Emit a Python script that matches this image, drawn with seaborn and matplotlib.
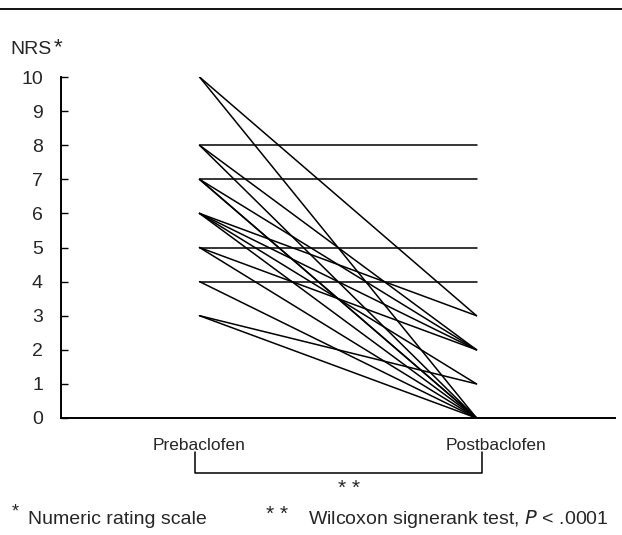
import numpy as np
import pandas as pd
import matplotlib
matplotlib.use("Agg")
import matplotlib.pyplot as plt
import matplotlib.transforms as mtransforms
from matplotlib.lines import Line2D
import seaborn as sns

# Data: NRS score per patient before and after baclofen
pre_scores = [10, 10, 8, 8, 8, 7, 7, 7, 7, 6, 6, 6, 6, 5, 5, 5, 4, 4, 3, 3]
post_scores = [3, 0, 8, 2, 0, 7, 2, 0, 0, 3, 2, 1, 0, 5, 2, 0, 4, 0, 1, 0]
conditions = ["Prebaclofen", "Postbaclofen"]
y_ticks = list(range(0, 11))

rows = []
for pid, (a, b) in enumerate(zip(pre_scores, post_scores)):
    rows.append({"patient": pid, "cond": 0, "nrs": a})
    rows.append({"patient": pid, "cond": 1, "nrs": b})
df = pd.DataFrame(rows)

sns.set_theme(style="white")
plt.rcParams["font.family"] = ["Liberation Sans", "DejaVu Sans"]

fig = plt.figure(figsize=(6.22, 5.35), dpi=100)
ax = fig.add_axes([61 / 622, 1 - 418 / 535, (615 - 61) / 622, (418 - 77) / 535])

sns.lineplot(data=df, x="cond", y="nrs", units="patient", estimator=None,
             color="black", linewidth=1.1, ax=ax, legend=False)

ax.set_xlim(-0.5, 1.5)
ax.set_ylim(0, 10)
ax.set_yticks(y_ticks)
ax.set_yticklabels([str(v) for v in y_ticks], fontsize=14)
ax.set_xticks([])
ax.set_xlabel("")
ax.set_ylabel("")
ax.tick_params(axis="y", direction="in", length=5, width=1, color="black", pad=13, left=True)
for s in ["top", "right"]:
    ax.spines[s].set_visible(False)
for s in ["left", "bottom"]:
    ax.spines[s].set_color("black")
    ax.spines[s].set_linewidth(1.4)

# condition labels
blend = mtransforms.blended_transform_factory(ax.transData, fig.transFigure)
ax.text(0, 1 - 445 / 535, conditions[0], transform=blend, ha="center", va="center", fontsize=12.5)
ax.text(1.07, 1 - 445 / 535, conditions[1], transform=blend, ha="center", va="center", fontsize=12.5)

# significance bracket
yb_top, yb_bot = 1 - 452 / 535, 1 - 473 / 535
fig.add_artist(Line2D([-0.018, -0.018, 1.02, 1.02], [yb_top, yb_bot, yb_bot, yb_top],
                      transform=blend, color="black", linewidth=1.1))
ax.text(0.54, 1 - 489 / 535, "* *", transform=blend, ha="center", va="center", fontsize=15)

# NRS label
fig.text(10 / 622, 1 - 50 / 535, "NRS", ha="left", va="center", fontsize=14)
fig.text(54 / 622, 1 - 48 / 535, "*", ha="left", va="center", fontsize=16)

# top border line
fig.add_artist(Line2D([0, 1], [1 - 9 / 535, 1 - 9 / 535], transform=fig.transFigure,
                      color="black", linewidth=1.3))

# footnotes
fig.text(12 / 622, 1 - 512 / 535, "*", ha="left", va="center", fontsize=13)
fig.text(28 / 622, 1 - 519 / 535, "Numeric rating scale", ha="left", va="center", fontsize=14)
fig.text(266 / 622, 1 - 515 / 535, "* *", ha="left", va="center", fontsize=15)
fig.text(308 / 622, 1 - 519 / 535, "Wilcoxon signerank test, $\\it{P}$ < .0001",
         ha="left", va="center", fontsize=14)

fig.savefig("out.png", dpi=100, facecolor="white")
